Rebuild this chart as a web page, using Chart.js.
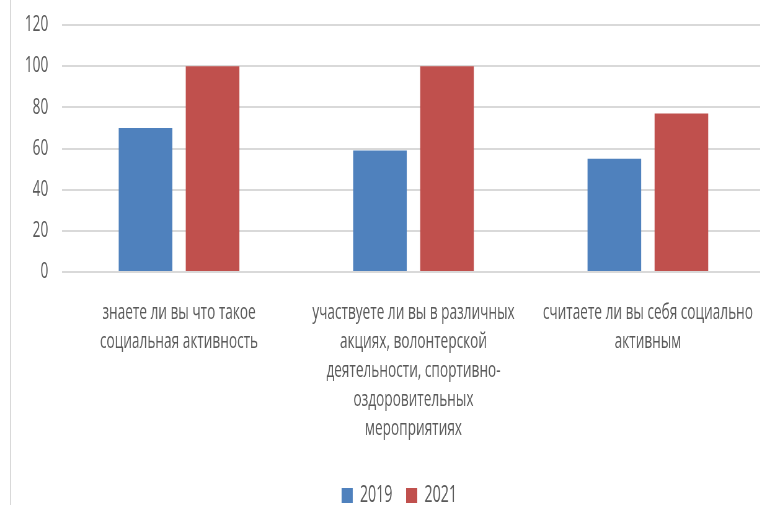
<!DOCTYPE html>
<html>
<head>
<meta charset="utf-8">
<script src="https://cdn.jsdelivr.net/npm/chart.js@4/dist/chart.umd.min.js"></script>
<style>
  html, body { margin: 0; padding: 0; background: #fff; overflow: hidden; }
  #wrap { position: relative; width: 760px; height: 505px; overflow: hidden; }
  #frame { position: absolute; left: 10px; top: 0; width: 0; height: 505px; border-left: 1px solid #d9d9d9; }
  /* the original picture is squeezed horizontally, so the canvas is too */
  canvas { position: absolute; left: 0; top: 0; transform: scaleX(0.62); transform-origin: 0 0; }
</style>
</head>
<body>
<div id="wrap">
  <div id="frame"></div>
  <canvas id="barChart" width="1234" height="505"></canvas>
</div>
<script>
// categories (already split into lines like the original)
const categories = [
    ["знаете ли вы что такое", "социальная активность"],
    ["участвуете ли вы в различных", "акциях, волонтерской", "деятельности, спортивно-", "оздоровительных", "мероприятиях"],
    ["считаете ли вы себя социально", "активным"]
];
const values2019 = [70, 59, 55];
const values2021 = [100, 100, 77];
const yTicks = [0, 20, 40, 60, 80, 100, 120];

const fontFamily = "'Open Sans', sans-serif";
const textColor = "#595959";

// nudge the legend a bit to the right, like in the original
const legendShift = {
    id: "legendShift",
    afterLayout(chart) {
        chart.legend.left += 18;
        chart.legend.right += 18;
    }
};

const barData = {
    labels: categories,
    datasets: [
        {
            label: "2019",
            backgroundColor: "#4f81bd",
            data: values2019
        },
        {
            label: "2021",
            backgroundColor: "#c0504d",
            data: values2021
        }
    ]
};

const barConfig = {
    type: "bar",
    data: barData,
    plugins: [legendShift],
    options: {
        responsive: false,
        animation: false,
        layout: { padding: { top: 25, right: 0, left: 18, bottom: -12 } },
        datasets: {
            bar: { categoryPercentage: 0.572, barPercentage: 0.8 }
        },
        scales: {
            x: {
                grid: { display: false },
                border: { display: false },
                ticks: {
                    color: textColor,
                    font: { family: fontFamily, size: 22, lineHeight: 1.318 },
                    padding: 18,
                    maxRotation: 0,
                    autoSkip: false
                },
                afterFit: (axis) => {
                    axis.height += 1;
                    // long labels should not shrink the plot sideways
                    axis.paddingLeft = 0;
                    axis.paddingRight = 0;
                }
            },
            y: {
                min: 0,
                max: 120,
                afterBuildTicks: (axis) => { axis.ticks = yTicks.map(v => ({ value: v })); },
                afterFit: (axis) => {
                    axis.paddingTop = 0;
                    axis.paddingBottom = 0;
                },
                grid: { color: "#d9d9d9", lineWidth: 2, drawTicks: false },
                border: { display: false },
                ticks: {
                    color: textColor,
                    font: { family: fontFamily, size: 22 },
                    padding: 22
                }
            }
        },
        plugins: {
            legend: {
                position: "bottom",
                labels: {
                    color: textColor,
                    font: { family: fontFamily, size: 23 },
                    boxWidth: 18,
                    boxHeight: 15,
                    padding: 22
                }
            },
            tooltip: { enabled: false }
        }
    }
};

const barChart = new Chart(document.getElementById("barChart"), barConfig);
</script>
</body>
</html>
